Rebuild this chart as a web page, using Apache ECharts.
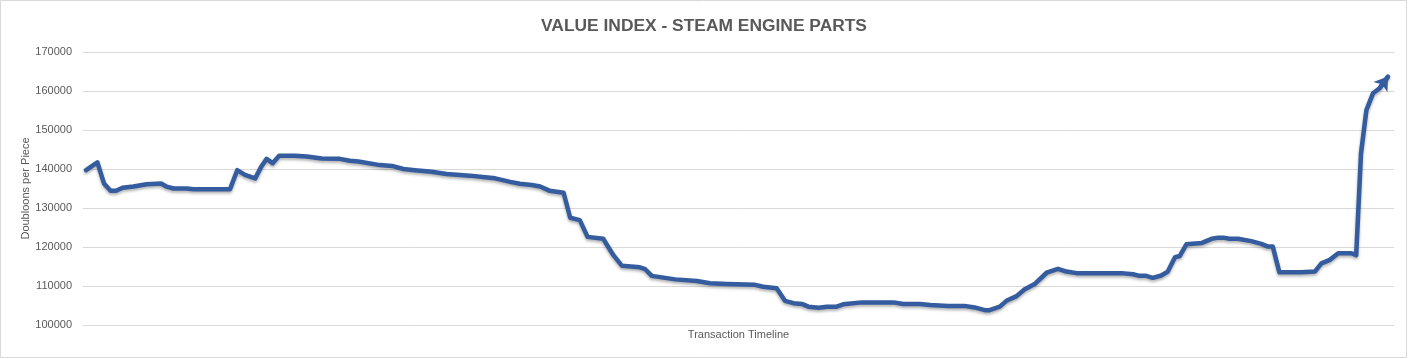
<!DOCTYPE html>
<html>
<head>
<meta charset="utf-8">
<script src="https://cdn.jsdelivr.net/npm/echarts@6/dist/echarts.min.js"></script>
<style>
  html, body { margin: 0; padding: 0; background: #ffffff; }
  #chart { width: 1408px; height: 359px; }
</style>
</head>
<body>
<div id="chart"></div>
<script>
// Transaction index (position along the timeline)
const transactions = [
  0, 1.9, 3.0, 4.1, 5.0, 6.1, 7.9, 10.1, 12.5, 13.4,
  14.6, 16.8, 17.9, 24.0, 24.3, 25.2, 26.5, 28.2, 29.2, 30.1,
  31.1, 32.2, 34.8, 36.8, 39.3, 42.3, 44.0, 45.4, 49.0, 51.0,
  52.9, 54.8, 57.6, 60.1, 64.0, 66.5, 68.2, 70.7, 72.3, 74.3,
  75.7, 77.3, 79.6, 80.7, 82.3, 83.6, 86.2, 87.9, 89.3, 92.3,
  93.2, 94.3, 98.2, 101.8, 104.0, 106.8, 111.5, 112.9, 115.1, 116.5,
  117.9, 119.3, 120.4, 122.1, 123.5, 125.1, 126.2, 129.3, 134.6, 136.2,
  139.0, 140.7, 143.7, 146.4, 148.1, 149.8, 150.6, 152.3, 153.4, 155.1,
  156.4, 158.1, 160.1, 162.0, 163.4, 165.1, 172.6, 174.5, 175.6, 176.7,
  177.8, 179.2, 180.3, 181.5, 182.3, 183.4, 185.9, 187.6, 188.7, 189.5,
  190.6, 192.0, 194.2, 195.9, 197.0, 197.8, 198.9, 202.5, 204.8, 205.9,
  207.3, 208.7, 210.9, 211.7, 212.5, 213.4, 214.5, 215.6, 217.0
];
// Doubloons per piece
const prices = [
  139700, 141700, 136300, 134400, 134400, 135200, 135500, 136100, 136300, 135500,
  135000, 135000, 134800, 134800, 134600, 139700, 138500, 137600, 140600, 142600,
  141500, 143400, 143400, 143200, 142700, 142600, 142100, 141900, 141000, 140800,
  140000, 139700, 139300, 138700, 138300, 137900, 137600, 136700, 136200, 135900,
  135500, 134400, 133900, 127500, 126900, 122600, 122100, 117900, 115200, 114800,
  114300, 112600, 111700, 111300, 110700, 110500, 110300, 109800, 109400, 106200,
  105600, 105400, 104700, 104400, 104700, 104700, 105300, 105800, 105800, 105400,
  105400, 105100, 104900, 104900, 104500, 103800, 103800, 104700, 106200, 107400,
  109100, 110500, 113400, 114400, 113700, 113300, 113300, 113000, 112600, 112600,
  112100, 112700, 113700, 117400, 117700, 120700, 121000, 122100, 122400, 122400,
  122100, 122100, 121500, 120800, 120100, 120100, 113500, 113500, 113700, 115800,
  116700, 118400, 118400, 117900, 144000, 155100, 159400, 160700, 163700
];
const yTicks = [100000, 110000, 120000, 130000, 140000, 150000, 160000, 170000];

const titleText = 'VALUE INDEX - STEAM ENGINE PARTS';
const yName = 'Doubloons per Piece';
const xName = 'Transaction Timeline';

const seriesData = transactions.map((t, i) => [t, prices[i]]);
const n = seriesData.length;
const lineColor = '#345C9E';

const chart = echarts.init(document.getElementById('chart'), null, { renderer: 'canvas' });
chart.setOption({
  animation: false,
  backgroundColor: '#ffffff',
  title: {
    text: titleText,
    left: 'center',
    top: 13,
    textStyle: {
      fontFamily: 'Liberation Sans',
      fontSize: 17.4,
      fontWeight: 'bold',
      color: '#595959'
    }
  },
  graphic: [{
    type: 'rect',
    shape: { x: 0.5, y: 0.5, width: 1406, height: 357 },
    style: { fill: 'none', stroke: '#d9d9d9', lineWidth: 1 },
    silent: true,
    z: -1
  }],
  grid: { left: 83, right: 14, top: 52, bottom: 34 },
  xAxis: {
    type: 'value',
    min: -0.5,
    max: 218,
    name: xName,
    nameLocation: 'middle',
    nameGap: 4,
    nameMoveOverlap: false,
    nameTextStyle: { fontFamily: 'Liberation Sans', fontSize: 11, color: '#595959' },
    axisLine: { show: false },
    axisTick: { show: false },
    axisLabel: { show: false },
    splitLine: { show: false }
  },
  yAxis: {
    type: 'value',
    min: yTicks[0],
    max: yTicks[yTicks.length - 1],
    interval: 10000,
    name: yName,
    nameLocation: 'middle',
    nameGap: 52,
    nameMoveOverlap: false,
    nameTextStyle: { fontFamily: 'Liberation Sans', fontSize: 11, color: '#595959' },
    axisLine: { show: false },
    axisTick: { show: false },
    axisLabel: {
      margin: 11,
      fontFamily: 'Liberation Sans',
      fontSize: 11,
      color: '#595959',
      formatter: v => String(v)
    },
    splitLine: { lineStyle: { color: '#d9d9d9', width: 1 } }
  },
  series: [{
    type: 'line',
    data: seriesData,
    showSymbol: false,
    symbol: 'none',
    lineStyle: {
      color: lineColor,
      width: 4.5,
      join: 'round',
      cap: 'round',
      shadowColor: 'rgba(0,0,0,0.3)',
      shadowBlur: 3,
      shadowOffsetY: 2
    },
    markLine: {
      silent: true,
      symbol: ['none', 'arrow'],
      symbolSize: [13, 13],
      label: { show: false },
      lineStyle: { color: lineColor, width: 4.5, type: 'solid' },
      data: [[
        { coord: seriesData[n - 2] },
        { coord: seriesData[n - 1] }
      ]]
    }
  }]
});
</script>
</body>
</html>
